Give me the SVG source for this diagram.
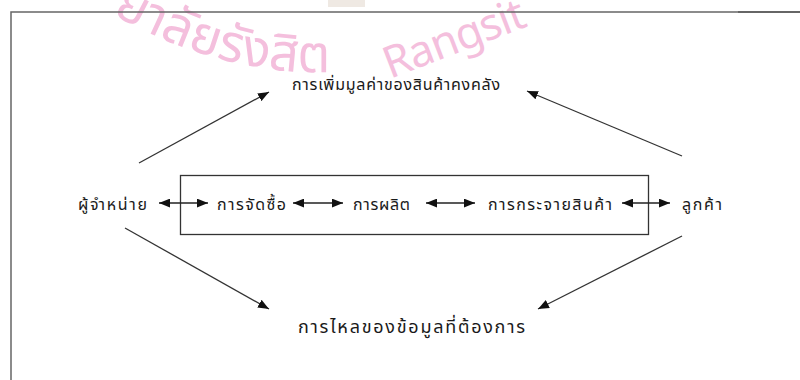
<svg xmlns="http://www.w3.org/2000/svg" width="800" height="380" viewBox="0 0 800 380">
<style>
.t{font-family:Tahoma,"Noto Sans Thai","Noto Sans",sans-serif;font-size:16px;fill:#1a1a1a}
.ln{stroke:#222;stroke-width:1.4;fill:none}
.dg{stroke:#333;stroke-width:1.3;fill:none}
.wm{font-family:"Noto Sans Thai","Noto Sans",sans-serif;font-size:52px;fill:#f4bfdd}
</style>
<defs>
<marker id="ah" viewBox="0 0 10 8" refX="10" refY="4" markerWidth="11" markerHeight="9" markerUnits="userSpaceOnUse" orient="auto-start-reverse">
<path d="M0,0 L10,4 L0,8 z" fill="#111"/>
</marker>
<path id="wmp" d="M 112 14 Q 375 160 590 -60"/>
</defs>
<rect width="800" height="380" fill="#fff"/>
<rect x="328" y="0" width="37" height="7" fill="#efe9e3"/>
<g id="watermark">
<text class="wm"><textPath href="#wmp">ยาลัยรังสิต</textPath></text>
<text class="wm" transform="translate(390 79) rotate(-21)" style="font-size:44px;letter-spacing:-1px">Rangsit</text>
</g>
<g id="frame">
<path d="M11 380 V12 H738" stroke="#666" stroke-width="1.5" fill="none"/>
<path d="M738 12 H800" stroke="#333" stroke-width="1.5" fill="none"/>
</g>
<g id="process-box"><rect x="180.5" y="175.5" width="468" height="59" fill="none" stroke="#333" stroke-width="1.3"/></g>
<g id="n-supplier"><text class="t" x="78" y="210" textLength="69">ผู้จำหน่าย</text></g>
<g id="n-purchase"><text class="t" x="217" y="210" textLength="69">การจัดซื้อ</text></g>
<g id="n-produce"><text class="t" x="353" y="210" textLength="57">การผลิต</text></g>
<g id="n-distribute"><text class="t" x="488" y="210" textLength="124">การกระจายสินค้า</text></g>
<g id="n-customer"><text class="t" x="682" y="210" textLength="40">ลูกค้า</text></g>
<g id="n-value"><text class="t" x="292" y="90" textLength="208">การเพิ่มมูลค่าของสินค้าคงคลัง</text></g>
<g id="n-info"><text class="t" x="298" y="333" textLength="227" style="font-size:18px">การไหลของข้อมูลที่ต้องการ</text></g>
<g id="connectors">
<line class="ln" x1="159" y1="203" x2="208" y2="203" marker-start="url(#ah)" marker-end="url(#ah)"/>
<line class="ln" x1="293" y1="203" x2="343" y2="203" marker-start="url(#ah)" marker-end="url(#ah)"/>
<line class="ln" x1="426" y1="203" x2="475" y2="203" marker-start="url(#ah)" marker-end="url(#ah)"/>
<line class="ln" x1="622" y1="203" x2="670" y2="203" marker-start="url(#ah)" marker-end="url(#ah)"/>
<line class="dg" x1="139" y1="163" x2="269" y2="92" marker-end="url(#ah)"/>
<line class="dg" x1="682" y1="156" x2="527" y2="91" marker-end="url(#ah)"/>
<line class="dg" x1="125" y1="228" x2="269" y2="309" marker-end="url(#ah)"/>
<line class="dg" x1="682" y1="236" x2="538" y2="309" marker-end="url(#ah)"/>
</g>
</svg>
